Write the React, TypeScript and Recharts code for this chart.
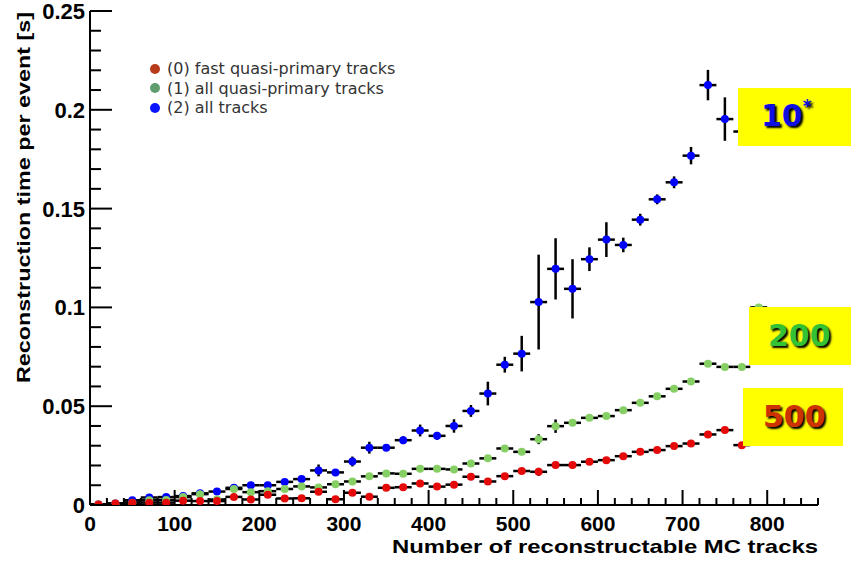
import React from 'react';
import { ScatterChart, Scatter, XAxis, YAxis, ErrorBar, Legend } from 'recharts';

// ---- data ----
const binCenters = [10, 30, 50, 70, 90, 110, 130, 150, 170, 190, 210, 230, 250, 270, 290, 310, 330, 350, 370, 390,
  410, 430, 450, 470, 490, 510, 530, 550, 570, 590, 610, 630, 650, 670, 690, 710, 730, 750, 770, 790];
const binHalfWidth = 10;

const allTracks = [0.0003, 0.0008, 0.0024, 0.0038, 0.004, 0.0045, 0.0059, 0.0068, 0.0087, 0.01, 0.01, 0.0117, 0.0131,
  0.0175, 0.0165, 0.022, 0.029, 0.029, 0.0328, 0.0377, 0.035, 0.04, 0.0476, 0.0564, 0.071, 0.0766, 0.1027, 0.1195,
  0.1094, 0.1244, 0.1343, 0.1316, 0.1444, 0.1547, 0.1633, 0.1768, 0.2125, 0.1953, 0.189, null];
const allTracksErr = [0.0005, 0.0005, 0.0008, 0.001, 0.001, 0.001, 0.001, 0.0012, 0.0012, 0.0012, 0.0012, 0.0015,
  0.0015, 0.003, 0.0015, 0.0025, 0.003, 0.0015, 0.002, 0.003, 0.002, 0.0034, 0.003, 0.006, 0.004, 0.009, 0.024, 0.0155,
  0.015, 0.006, 0.0088, 0.0037, 0.003, 0.0025, 0.003, 0.0044, 0.0077, 0.011, 0.002, null];

const allQuasi = [0.0002, 0.0004, 0.0012, 0.0024, 0.0025, 0.004, 0.0055, 0.0028, 0.0081, 0.0065, 0.007, 0.0081, 0.0094,
  0.0089, 0.0105, 0.0119, 0.0145, 0.016, 0.0158, 0.0183, 0.0183, 0.018, 0.021, 0.0236, 0.0286, 0.0269, 0.0333, 0.0399,
  0.0416, 0.0441, 0.045, 0.048, 0.0517, 0.055, 0.0588, 0.0625, 0.0715, 0.0699, 0.0699, 0.1];
const allQuasiErr = [0.0004, 0.0004, 0.0005, 0.0006, 0.0006, 0.0006, 0.0007, 0.0007, 0.0008, 0.0008, 0.0008, 0.0008,
  0.0008, 0.0008, 0.0008, 0.0009, 0.0009, 0.0009, 0.0009, 0.001, 0.001, 0.001, 0.001, 0.001, 0.001, 0.001, 0.0025,
  0.0034, 0.001, 0.0012, 0.001, 0.001, 0.001, 0.001, 0.001, 0.001, 0.001, 0.001, 0.001, 0.001];

const fastQuasi = [0.0003, 0.0008, 0.0012, 0.0012, 0.0012, 0.0022, 0.002, 0.002, 0.0041, 0.0028, 0.0052, 0.0033, 0.0034,
  0.0067, 0.0029, 0.0062, 0.0042, 0.0087, 0.009, 0.0109, 0.0093, 0.0103, 0.0143, 0.0119, 0.0146, 0.0172, 0.0168, 0.0202,
  0.0202, 0.0219, 0.0227, 0.0247, 0.0269, 0.0278, 0.0298, 0.0311, 0.0357, 0.0379, 0.0303, null];
const fastQuasiErr = [0.0003, 0.0003, 0.0004, 0.0004, 0.0004, 0.0005, 0.0005, 0.0005, 0.0005, 0.0005, 0.0005, 0.0005,
  0.0005, 0.0006, 0.0005, 0.0006, 0.0006, 0.0006, 0.0006, 0.0006, 0.0006, 0.0006, 0.0008, 0.0006, 0.0006, 0.0006, 0.002,
  0.0007, 0.0007, 0.0007, 0.0007, 0.0007, 0.0007, 0.0007, 0.0007, 0.0007, 0.0008, 0.0008, 0.0008, null];

const xTicks = [0, 20, 40, 60, 80, 100, 120, 140, 160, 180, 200, 220, 240, 260, 280, 300, 320, 340, 360, 380, 400, 420,
  440, 460, 480, 500, 520, 540, 560, 580, 600, 620, 640, 660, 680, 700, 720, 740, 760, 780, 800, 820, 840, 860];
const yTicks = [0, 0.01, 0.02, 0.03, 0.04, 0.05, 0.06, 0.07, 0.08, 0.09, 0.1, 0.11, 0.12, 0.13, 0.14, 0.15, 0.16, 0.17,
  0.18, 0.19, 0.2, 0.21, 0.22, 0.23, 0.24, 0.25];

const legendLabels = ['(0) fast quasi-primary tracks', '(1) all quasi-primary tracks', '(2) all tracks'];
const legendColors = ['#b83b1c', '#5f9c6e', '#0a14ff'];

const xTitle = 'Number of reconstructable MC tracks';
const yTitle = 'Reconstruction time per event [s]';

const boxLabels = ['10', '200', '500'];

function build(vals: (number | null)[], errs: (number | null)[]) {
  const out: { x: number; y: number; ex: number; ey: number }[] = [];
  vals.forEach((v, i) => {
    if (v !== null) out.push({ x: binCenters[i], y: v, ex: binHalfWidth, ey: errs[i] ?? 0 });
  });
  return out;
}

const blueData = build(allTracks, allTracksErr);
const greenData = build(allQuasi, allQuasiErr);
const redData = build(fastQuasi, fastQuasiErr);

const FONT = '"Liberation Sans", Arial, sans-serif';

const isMajorX = (v: number) => Math.round(v) % 100 === 0;
const isMajorY = (v: number) => Math.round(v * 1000) % 50 === 0;

const BottomTick = (props: any) => {
  const { x, y, payload } = props;
  const major = isMajorX(payload.value);
  return (
    <g>
      <line x1={x} y1={y} x2={x} y2={y - (major ? 15 : 7)} stroke="#000" strokeWidth={2} />
      {major && (
        <text x={x} y={y + 26} textAnchor="middle" fontFamily={FONT} fontWeight="bold" fontSize={21} fill="#000">
          {payload.value}
        </text>
      )}
    </g>
  );
};

const TopTick = (props: any) => {
  const { x, y, payload } = props;
  const major = isMajorX(payload.value);
  return <line x1={x} y1={y} x2={x} y2={y + (major ? 12 : 6)} stroke="#000" strokeWidth={2} />;
};

const LeftTick = (props: any) => {
  const { x, y, payload } = props;
  const major = isMajorY(payload.value);
  return (
    <g>
      <line x1={x} y1={y} x2={x + (major ? 22 : 11)} y2={y} stroke="#000" strokeWidth={2} />
      {major && (
        <text x={x - 5} y={y + 8} textAnchor="end" fontFamily={FONT} fontWeight="bold" fontSize={22} fill="#000">
          {String(payload.value)}
        </text>
      )}
    </g>
  );
};

const RightTick = (props: any) => {
  const { x, y, payload } = props;
  const major = isMajorY(payload.value);
  return <line x1={x} y1={y} x2={x - (major ? 22 : 10)} y2={y} stroke="#000" strokeWidth={2} />;
};

const Dot = (color: string) => (props: any) => {
  const { cx, cy } = props;
  if (cx == null || cy == null) return <g />;
  return <circle cx={cx} cy={cy} r={4} fill={color} />;
};

const LegendContent = () => (
  <div style={{ fontFamily: '"DejaVu Sans", Verdana, sans-serif', fontSize: 16, color: '#333' }}>
    {legendLabels.map((l, i) => (
      <div key={l} style={{ display: 'flex', alignItems: 'center', height: 19.5, whiteSpace: 'nowrap' }}>
        <span style={{ display: 'inline-block', width: 10, height: 10, borderRadius: 5, background: legendColors[i], marginRight: 7 }} />
        <span>{l}</span>
      </div>
    ))}
  </div>
);

const boxText: React.CSSProperties = {
  fontFamily: '"DejaVu Sans", Verdana, sans-serif',
  fontWeight: 'bold',
  fontSize: 30,
  textShadow: '2px 2px 2px #000',
  position: 'absolute',
  whiteSpace: 'nowrap',
};

export default function App() {
  return (
    <div style={{ position: 'fixed', left: 0, top: 0, width: 856, height: 562, background: '#fff', overflow: 'hidden' }}>
      <ScatterChart width={856} height={562} margin={{ top: 11, right: 38, bottom: 0, left: 0 }}>
        <XAxis
          xAxisId="main"
          type="number"
          dataKey="x"
          domain={[0, 860]}
          ticks={xTicks}
          interval={0}
          allowDataOverflow
          height={57}
          tickSize={0}
          tickMargin={0}
          tickLine={false}
          axisLine={{ stroke: '#000', strokeWidth: 2 }}
          tick={<BottomTick />}
        />
        <XAxis
          xAxisId="top"
          orientation="top"
          type="number"
          dataKey="x"
          domain={[0, 860]}
          ticks={xTicks}
          interval={0}
          allowDataOverflow
          height={0}
          tickSize={0}
          tickMargin={0}
          tickLine={false}
          axisLine={{ stroke: '#000', strokeWidth: 2 }}
          tick={<TopTick />}
        />
        <YAxis
          yAxisId="main"
          type="number"
          dataKey="y"
          domain={[0, 0.25]}
          ticks={yTicks}
          interval={0}
          allowDataOverflow
          width={90}
          tickSize={0}
          tickMargin={0}
          tickLine={false}
          axisLine={{ stroke: '#000', strokeWidth: 2 }}
          tick={<LeftTick />}
        />
        <YAxis
          yAxisId="right"
          orientation="right"
          type="number"
          dataKey="y"
          domain={[0, 0.25]}
          ticks={yTicks}
          interval={0}
          allowDataOverflow
          width={0}
          tickSize={0}
          tickMargin={0}
          tickLine={false}
          axisLine={{ stroke: '#000', strokeWidth: 2 }}
          tick={<RightTick />}
        />
        <Legend
          layout="vertical"
          align="center"
          verticalAlign="middle"
          content={<LegendContent />}
          wrapperStyle={{ position: 'absolute', left: 150, top: 59, width: 300 }}
        />
        <Scatter name="(2) all tracks" data={blueData} xAxisId="main" yAxisId="main" shape={Dot('#0000ff')} isAnimationActive={false}>
          <ErrorBar dataKey="ex" direction="x" width={0} stroke="#000" strokeWidth={2.5} isAnimationActive={false} />
          <ErrorBar dataKey="ey" direction="y" width={0} stroke="#000" strokeWidth={2.5} isAnimationActive={false} />
        </Scatter>
        <Scatter name="(1) all quasi-primary tracks" data={greenData} xAxisId="main" yAxisId="main" shape={Dot('#86cf64')} isAnimationActive={false}>
          <ErrorBar dataKey="ex" direction="x" width={0} stroke="#000" strokeWidth={2.5} isAnimationActive={false} />
          <ErrorBar dataKey="ey" direction="y" width={0} stroke="#000" strokeWidth={2.5} isAnimationActive={false} />
        </Scatter>
        <Scatter name="(0) fast quasi-primary tracks" data={redData} xAxisId="main" yAxisId="main" shape={Dot('#e50a0a')} isAnimationActive={false}>
          <ErrorBar dataKey="ex" direction="x" width={0} stroke="#000" strokeWidth={2.5} isAnimationActive={false} />
          <ErrorBar dataKey="ey" direction="y" width={0} stroke="#000" strokeWidth={2.5} isAnimationActive={false} />
        </Scatter>
      </ScatterChart>

      <svg width={856} height={562} style={{ position: 'absolute', left: 0, top: 0, pointerEvents: 'none' }}>
        <text x={818} y={553} textAnchor="end" fontFamily={FONT} fontWeight="bold" fontSize={19} textLength={426} lengthAdjust="spacingAndGlyphs" fill="#000">
          {xTitle}
        </text>
        <text transform="translate(30,12) rotate(-90)" x={0} y={0} textAnchor="end" fontFamily={FONT} fontWeight="bold" fontSize={19} textLength={371} lengthAdjust="spacingAndGlyphs" fill="#000">
          {yTitle}
        </text>
      </svg>

      <div style={{ position: 'absolute', left: 738, top: 88, width: 113, height: 58, background: '#ffff00' }}>
        <div style={{ ...boxText, left: 23, top: 10, color: '#0f0fe0' }}>
          {boxLabels[0]}<sup style={{ fontSize: 17, verticalAlign: 'top', position: 'relative', top: -2 }}>*</sup>
        </div>
      </div>
      <div style={{ position: 'absolute', left: 749, top: 307, width: 102, height: 58, background: '#ffff00' }}>
        <div style={{ ...boxText, left: 19, top: 11, color: '#33c233' }}>{boxLabels[1]}</div>
      </div>
      <div style={{ position: 'absolute', left: 743, top: 388, width: 100, height: 58, background: '#ffff00' }}>
        <div style={{ ...boxText, left: 20, top: 11, color: '#cc3300' }}>{boxLabels[2]}</div>
      </div>
    </div>
  );
}
